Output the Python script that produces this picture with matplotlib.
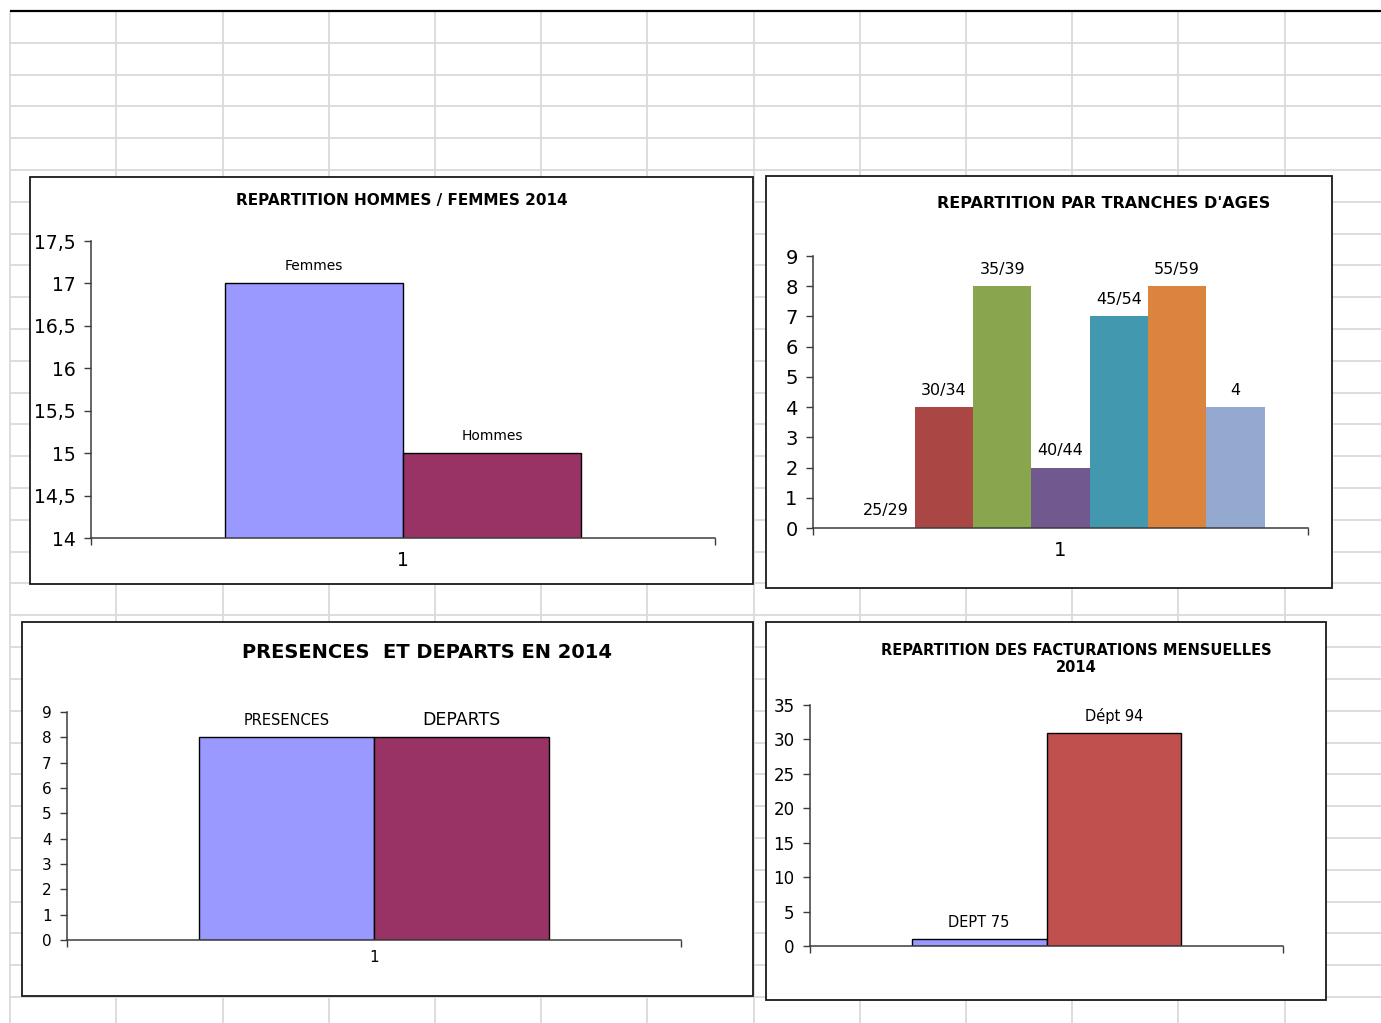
import numpy as np
import matplotlib.pyplot as plt
from matplotlib.patches import Rectangle
from matplotlib.ticker import FuncFormatter

# Données des quatre graphiques
genre_labels = ['Femmes', 'Hommes']
genre_values = [17, 15]

age_labels = ['25/29', '30/34', '35/39', '40/44', '45/54', '55/59', '4']
age_values = [0, 4, 8, 2, 7, 8, 4]

mouvement_labels = ['PRESENCES', 'DEPARTS']
mouvement_values = [8, 8]

dept_labels = ['DEPT 75', 'Dépt 94']
dept_values = [1, 31]

W, H = 1381, 1023
gris = '#3c3c3c'

fig = plt.figure(figsize=(W / 100, H / 100), dpi=100)

# Fond façon feuille de calcul
fond = fig.add_axes([0, 0, 1, 1])
fond.set_xlim(0, W)
fond.set_ylim(H, 0)
fond.axis('off')
colonnes = np.arange(10.3, W, 106.2)
lignes = np.arange(42.7, H, 31.81)
fond.vlines(colonnes, 10.5, H, color='#dadada', lw=1.3)
fond.hlines(lignes, 10, W, color='#dadada', lw=1.3)
fond.hlines(10.5, 10, W, color='black', lw=1.6)

# Cadres des graphiques (gauche, haut, droite, bas)
cadres = [(30, 177, 753, 584), (766, 176, 1332, 588),
          (22, 622, 753, 996), (766, 622, 1326, 1000)]
for x0, y0, x1, y1 in cadres:
    fond.add_patch(Rectangle((x0, y0), x1 - x0, y1 - y0, facecolor='white',
                             edgecolor='#1a1a1a', lw=1.3, zorder=3))


def axes_px(x0, y0, x1, y1):
    return fig.add_axes([x0 / W, 1 - y1 / H, (x1 - x0) / W, (y1 - y0) / H])


def style(ax, ylim, yticks, taille, label_x, pad_x):
    ax.patch.set_visible(False)
    ax.set_xlim(0.5, 1.5)
    ax.set_ylim(*ylim)
    ax.set_yticks(yticks)
    ax.yaxis.set_major_formatter(FuncFormatter(lambda v, p: f'{v:g}'.replace('.', ',')))
    ax.set_xticks([1])
    ax.set_xticklabels([label_x])
    ax.set_xticks([0.5, 1.5], minor=True)
    ax.tick_params(axis='x', which='major', length=0, pad=pad_x, labelsize=taille)
    ax.tick_params(axis='x', which='minor', length=5, width=1, color=gris)
    ax.tick_params(axis='y', length=5, width=1, color=gris, labelsize=taille, pad=6)
    for s in ['top', 'right']:
        ax.spines[s].set_visible(False)
    for s in ['left', 'bottom']:
        ax.spines[s].set_color(gris)
        ax.spines[s].set_linewidth(1.1)


def barres(ax, valeurs, etiquettes, couleurs, largeur, tailles, bord=None):
    n = len(valeurs)
    pos = 1 + (np.arange(n) - (n - 1) / 2) * largeur
    ax.bar(pos, valeurs, width=largeur, color=couleurs,
           edgecolor=bord if bord else 'none', linewidth=1.0 if bord else 0)
    for x, v, t, s in zip(pos, valeurs, etiquettes, tailles):
        ax.annotate(t, (x, v), xytext=(0, 17), textcoords='offset pixels',
                    ha='center', va='center', fontsize=s, annotation_clip=False)


# 1 - Hommes / Femmes
ax1 = axes_px(91, 241, 715, 538)
barres(ax1, genre_values, genre_labels, ['#9999ff', '#993366'], 0.285, [10, 10], bord='black')
style(ax1, (14, 17.5), np.arange(14, 17.6, 0.5), 13.5, '1', 9)
fig.text(402 / W, 1 - 200 / H, 'REPARTITION HOMMES / FEMMES 2014',
         ha='center', va='center', fontsize=11, weight='bold')

# 2 - Tranches d'âges
ax2 = axes_px(813, 256, 1308, 528)
barres(ax2, age_values, age_labels,
       ['#4572a7', '#aa4643', '#89a54e', '#71588f', '#4198af', '#db843d', '#93a9cf'],
       0.1178, [11.5] * 7)
style(ax2, (0, 9), np.arange(0, 10, 1), 14, '1', 9)
fig.text(1104 / W, 1 - 203 / H, "REPARTITION PAR TRANCHES D'AGES",
         ha='center', va='center', fontsize=11.5, weight='bold')

# 3 - Présences et départs
ax3 = axes_px(67, 712, 681, 940)
barres(ax3, mouvement_values, mouvement_labels, ['#9999ff', '#993366'], 0.2855, [10.5, 12.5], bord='black')
style(ax3, (0, 9), np.arange(0, 10, 1), 11, '1', 7)
fig.text(427 / W, 1 - 652 / H, 'PRESENCES  ET DEPARTS EN 2014',
         ha='center', va='center', fontsize=14, weight='bold')

# 4 - Facturations mensuelles
ax4 = axes_px(810, 705, 1283, 946)
barres(ax4, dept_values, dept_labels, ['#9999ff', '#c0504d'], 0.2854, [10.5, 10.5], bord='black')
style(ax4, (0, 35), np.arange(0, 36, 5), 12, '', 7)
fig.text(1076 / W, 1 - 659 / H, 'REPARTITION DES FACTURATIONS MENSUELLES\n2014',
         ha='center', va='center', fontsize=10.5, weight='bold', linespacing=1.2)

fig.savefig('out.png', dpi=100)
